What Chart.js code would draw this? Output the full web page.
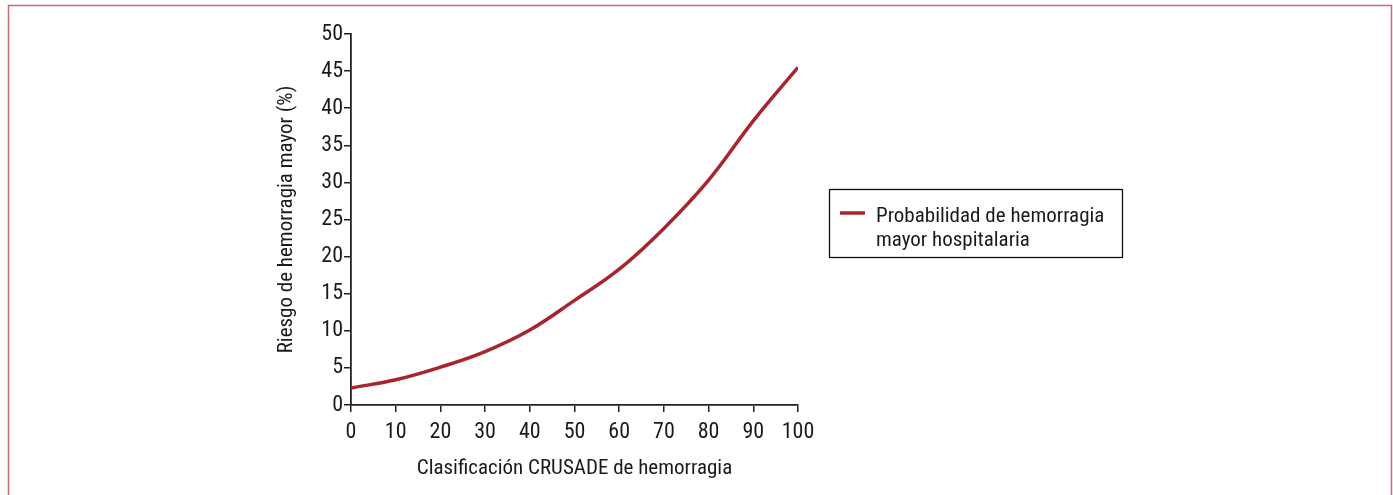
<!DOCTYPE html>
<html>
<head>
<meta charset="utf-8">
<script src="https://cdn.jsdelivr.net/npm/chart.js@4"></script>
<style>
  html, body { margin: 0; padding: 0; background: #fff; }
  #wrap { width: 1393px; height: 495px; position: relative; }
</style>
</head>
<body>
<div id="wrap"><canvas id="riskChart" width="1393" height="495"></canvas></div>
<script>
var scores = [0, 10, 20, 30, 40, 50, 60, 70, 80, 90, 100];
var bleedRisk = [2.3, 3.4, 5.1, 7.2, 10.1, 14.1, 18.3, 23.8, 30.3, 38.3, 45.5];
var seriesLabel = ["Probabilidad de hemorragia", "mayor hospitalaria"];
var xTitle = "Clasificación CRUSADE de hemorragia";
var yTitle = "Riesgo de hemorragia mayor (%)";

var FONT = "'Liberation Sans Narrow', 'Arial Narrow', 'Roboto Condensed', sans-serif";
var LINE_COLOR = "#a82431";

// frame + legend box drawn by hand
var framePlugin = {
    id: "frame",
    beforeDraw: function(chart) {
        var c = chart.ctx;
        c.save();
        c.strokeStyle = "#c96a75";
        c.lineWidth = 1.5;
        c.beginPath();
        c.moveTo(8.5, 495);
        c.lineTo(8.5, 5.5);
        c.lineTo(1391.5, 5.5);
        c.lineTo(1391.5, 495);
        c.stroke();
        c.restore();
    },
    afterDraw: function(chart) {
        var c = chart.ctx;
        c.save();
        c.strokeStyle = "#111";
        c.lineWidth = 1.3;
        c.strokeRect(829.5, 189.5, 293, 68);
        c.strokeStyle = LINE_COLOR;
        c.lineWidth = 3.5;
        c.beginPath();
        c.moveTo(840, 213);
        c.lineTo(865, 213);
        c.stroke();
        c.fillStyle = "#1a1a1a";
        c.font = "21px " + FONT;
        c.textBaseline = "middle";
        c.fillText(seriesLabel[0], 876, 217);
        c.fillText(seriesLabel[1], 876, 241);
        c.restore();
    }
};

new Chart(document.getElementById("riskChart").getContext("2d"), {
    type: "line",
    data: {
        labels: scores,
        datasets: [{
            label: seriesLabel.join(" "),
            data: scores.map(function(s, i) { return { x: s, y: bleedRisk[i] }; }),
            borderColor: LINE_COLOR,
            borderWidth: 3.5,
            pointRadius: 0,
            fill: false,
            tension: 0.4
        }]
    },
    options: {
        responsive: false,
        animation: false,
        layout: { padding: { left: 270, right: 595, top: 34, bottom: 10 } },
        plugins: {
            legend: { display: false },
            tooltip: { enabled: false }
        },
        scales: {
            x: {
                type: "linear",
                min: 0,
                max: 100,
                afterFit: function(s) { s.height = 80; },
                ticks: { stepSize: 10, color: "#1a1a1a", font: { family: FONT, size: 22 }, padding: 7, maxRotation: 0 },
                grid: { drawOnChartArea: false, tickLength: 7, color: "#222", lineWidth: 1.5 },
                border: { color: "#222", width: 1.8 },
                title: { display: true, text: xTitle, color: "#1a1a1a", font: { family: FONT, size: 21 }, padding: { top: 1 } }
            },
            y: {
                min: 0,
                max: 50,
                afterFit: function(s) { s.width = 81; },
                ticks: { stepSize: 5, color: "#1a1a1a", font: { family: FONT, size: 22 }, padding: 1 },
                grid: { drawOnChartArea: false, tickLength: 7, color: "#222", lineWidth: 1.5 },
                border: { color: "#222", width: 1.8 },
                title: { display: true, text: yTitle, color: "#1a1a1a", font: { family: FONT, size: 21 }, padding: 4 }
            }
        }
    },
    plugins: [framePlugin]
});
</script>
</body>
</html>
